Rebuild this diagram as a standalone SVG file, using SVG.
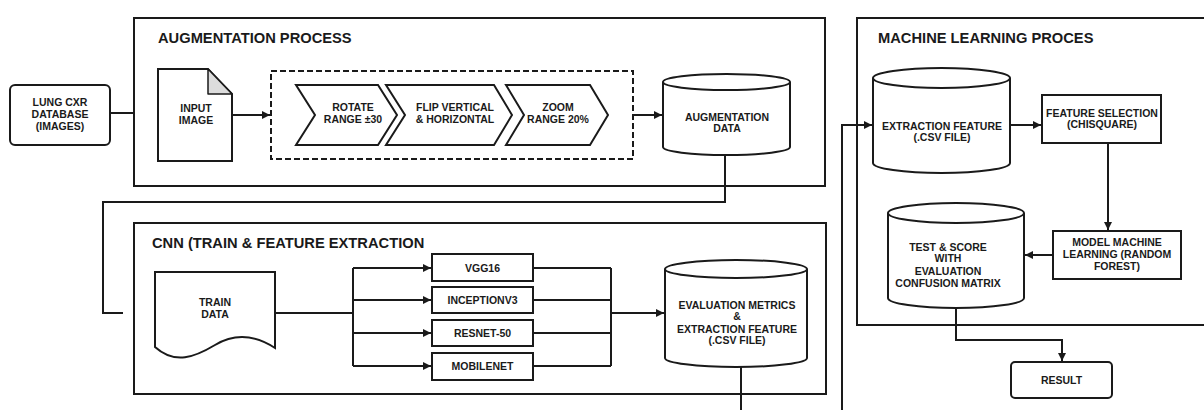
<svg xmlns="http://www.w3.org/2000/svg" width="1204" height="410" viewBox="0 0 1204 410">
<defs>
<marker id="arr" markerUnits="userSpaceOnUse" markerWidth="9" markerHeight="9" refX="8" refY="4" orient="auto"><path d="M0,0 L8,4 L0,8 Z" fill="#1a1a1a"/></marker>
<style>
.box{fill:#fff;stroke:#1a1a1a;stroke-width:2}
.cont{fill:none;stroke:#1a1a1a;stroke-width:2}
.ln{fill:none;stroke:#1a1a1a;stroke-width:2}
.t{font-family:"Liberation Sans",Arial,sans-serif;font-weight:bold;font-size:10.5px;fill:#1a1a1a;text-anchor:middle}
.title{font-family:"Liberation Sans",Arial,sans-serif;font-weight:bold;font-size:14.7px;fill:#1a1a1a}
</style>
</defs>
<rect width="1204" height="410" fill="#fff"/>

<g id="connectors">
<path class="ln" d="M110,113 L134,113"/>
<path class="ln" d="M232,115 L270,115" marker-end="url(#arr)"/>
<path class="ln" d="M633,115 L662,115" marker-end="url(#arr)"/>
<path class="ln" d="M725,155 L725,202 L103,202 L103,313 L123,313"/>
<path class="ln" d="M275,313 L353,313"/>
<path class="ln" d="M353,268 L353,366"/>
<path class="ln" d="M353,268 L431,268" marker-end="url(#arr)"/>
<path class="ln" d="M353,300 L431,300" marker-end="url(#arr)"/>
<path class="ln" d="M353,333 L431,333" marker-end="url(#arr)"/>
<path class="ln" d="M353,366 L431,366" marker-end="url(#arr)"/>
<path class="ln" d="M533,268 L611,268 M533,300 L611,300 M533,333 L611,333 M533,366 L611,366 M611,268 L611,366"/>
<path class="ln" d="M611,313 L664,313" marker-end="url(#arr)"/>
<path class="ln" d="M741,367 L741,410"/>
<path class="ln" d="M842,410 L842,125 L872,125" marker-end="url(#arr)"/>
<path class="ln" d="M1010,125 L1041,125" marker-end="url(#arr)"/>
<path class="ln" d="M1108,143 L1108,230" marker-end="url(#arr)"/>
<path class="ln" d="M1053,255 L1025,255" marker-end="url(#arr)"/>
<path class="ln" d="M956,308 L956,340 L1062,340 L1062,361" marker-end="url(#arr)"/>
</g>

<g id="augmentation-process">
<rect class="cont" x="134" y="18" width="691" height="168"/>
<text class="title" x="158" y="43">AUGMENTATION PROCESS</text>
</g>

<g id="cnn-process">
<rect class="cont" x="134" y="223" width="692" height="171"/>
<text class="title" x="152" y="248">CNN (TRAIN &amp; FEATURE EXTRACTION</text>
</g>

<g id="ml-process">
<rect class="cont" x="857" y="18" width="360" height="307"/>
<text class="title" x="878" y="43">MACHINE LEARNING PROCES</text>
</g>

<g id="lung-db">
<rect class="box" x="10" y="85" width="100" height="60" rx="5"/>
<text class="t" x="60" y="106">LUNG CXR</text>
<text class="t" x="60" y="118">DATABASE</text>
<text class="t" x="60" y="130">(IMAGES)</text>
</g>

<g id="input-image">
<path class="box" d="M158,69 L208,69 L232,94 L232,161 L158,161 Z"/>
<path d="M208,69 L208,94 L232,94 Z" fill="#dcdcdc" stroke="#1a1a1a" stroke-width="1.5" stroke-linejoin="round"/>
<text class="t" x="196" y="112">INPUT</text>
<text class="t" x="196" y="124">IMAGE</text>
</g>

<g id="augment-steps">
<rect x="271" y="71" width="362" height="88" fill="none" stroke="#1a1a1a" stroke-width="2" stroke-dasharray="6,3"/>
<path class="box" d="M296,85 L378,85 L397,115 L378,145 L296,145 L315,115 Z"/>
<text class="t" x="353" y="111">ROTATE</text>
<text class="t" x="353" y="123">RANGE ±30</text>
<path class="box" d="M386,85 L494,85 L512,115 L494,145 L386,145 L405,115 Z"/>
<text class="t" x="455" y="111">FLIP VERTICAL</text>
<text class="t" x="455" y="123">&amp; HORIZONTAL</text>
<path class="box" d="M506,85 L590,85 L608,115 L590,145 L506,145 L524,115 Z"/>
<text class="t" x="558" y="111">ZOOM</text>
<text class="t" x="558" y="123">RANGE 20%</text>
</g>

<g id="augmentation-data">
<path class="box" d="M663,82 L663,147 A63.5,8 0 0 0 790,147 L790,82"/>
<ellipse class="box" cx="726.5" cy="82" rx="63.5" ry="8"/>
<text class="t" x="727" y="121">AUGMENTATION</text>
<text class="t" x="727" y="132">DATA</text>
</g>

<g id="train-data">
<path class="box" d="M155,272 L275,272 L275,348 C255,335 235,333 215,345 C195,357 175,365 155,347 Z"/>
<text class="t" x="215" y="306">TRAIN</text>
<text class="t" x="215" y="318">DATA</text>
</g>

<g id="vgg16">
<rect class="box" x="432" y="254" width="101" height="27"/>
<text class="t" x="482.5" y="271.5">VGG16</text>
</g>
<g id="inceptionv3">
<rect class="box" x="432" y="287" width="101" height="26"/>
<text class="t" x="482.5" y="303.5">INCEPTIONV3</text>
</g>
<g id="resnet50">
<rect class="box" x="432" y="320" width="101" height="26"/>
<text class="t" x="482.5" y="336.5">RESNET-50</text>
</g>
<g id="mobilenet">
<rect class="box" x="432" y="353" width="101" height="27"/>
<text class="t" x="482.5" y="370">MOBILENET</text>
</g>

<g id="eval-metrics">
<path class="box" d="M665,269 L665,358 A71,9 0 0 0 807,358 L807,269"/>
<ellipse class="box" cx="736" cy="269" rx="71" ry="9"/>
<text class="t" x="737" y="309">EVALUATION METRICS</text>
<text class="t" x="737" y="320">&amp;</text>
<text class="t" x="737" y="333">EXTRACTION FEATURE</text>
<text class="t" x="737" y="344">(.CSV FILE)</text>
</g>

<g id="extraction-feature">
<path class="box" d="M873,78 L873,163 A68.5,10 0 0 0 1010,163 L1010,78"/>
<ellipse class="box" cx="941.5" cy="78" rx="68.5" ry="10"/>
<text class="t" x="942" y="130">EXTRACTION FEATURE</text>
<text class="t" x="942" y="141">(.CSV FILE)</text>
</g>

<g id="feature-selection">
<rect class="box" x="1042" y="95" width="119" height="48"/>
<text class="t" x="1102" y="117">FEATURE SELECTION</text>
<text class="t" x="1102" y="128">(CHISQUARE)</text>
</g>

<g id="model-ml">
<rect class="box" x="1053" y="231" width="128" height="48"/>
<text class="t" x="1117" y="246">MODEL MACHINE</text>
<text class="t" x="1117" y="258">LEARNING (RANDOM</text>
<text class="t" x="1117" y="270">FOREST)</text>
</g>

<g id="test-score">
<path class="box" d="M888,213 L888,298 A68,10 0 0 0 1024,298 L1024,213"/>
<ellipse class="box" cx="956" cy="213" rx="68" ry="10"/>
<text class="t" x="948" y="251">TEST &amp; SCORE</text>
<text class="t" x="948" y="262">WITH</text>
<text class="t" x="948" y="275">EVALUATION</text>
<text class="t" x="948" y="287">CONFUSION MATRIX</text>
</g>

<g id="result">
<rect class="box" x="1011" y="362" width="101" height="36" rx="4"/>
<text class="t" x="1061.5" y="384">RESULT</text>
</g>
</svg>
